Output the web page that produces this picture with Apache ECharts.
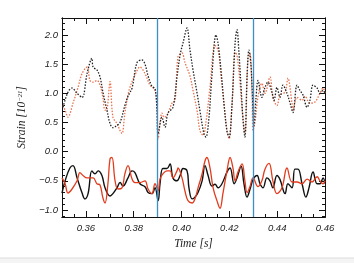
<!DOCTYPE html>
<html>
<head>
<meta charset="utf-8">
<script src="https://cdn.jsdelivr.net/npm/echarts@6/dist/echarts.min.js"></script>
<style>html,body{margin:0;padding:0;background:#fff}#c{width:354px;height:263px}</style>
</head>
<body>
<div id="c"></div>
<script>
// ---- data (time in s, strain in 1e-21) ----
var xTickLabels = [0.36, 0.38, 0.40, 0.42, 0.44, 0.46];
var yTickLabels = [-1.0, -0.5, 0.0, 0.5, 1.0, 1.5, 2.0];
var eventTimes = [0.39, 0.43];

var blackDotT = [0.3504,0.3525,0.3542,0.3563,0.3584,0.3605,0.3625,0.3630,0.3646,0.3659,0.3671,0.3688,0.3701,0.3713,0.3730,0.3743,0.3763,0.3776,0.3793,0.3814,0.3835,0.3847,0.3860,0.3876,0.3889,0.3897,0.3902,0.3918,0.3931,0.3943,0.3964,0.3981,0.3994,0.4006,0.4023,0.4035,0.4048,0.4065,0.4077,0.4094,0.4102,0.4115,0.4127,0.4144,0.4153,0.4165,0.4178,0.4190,0.4199,0.4211,0.4224,0.4232,0.4240,0.4249,0.4257,0.4265,0.4274,0.4282,0.4290,0.4295,0.4303,0.4311,0.4320,0.4336,0.4349,0.4361,0.4378,0.4387,0.4399,0.4412,0.4424,0.4441,0.4454,0.4466,0.4483,0.4495,0.4508,0.4525,0.4537,0.4550,0.4567,0.4579,0.4592,0.4600];
var blackDotV = [0.76,1.02,1.09,1.00,0.93,1.34,1.60,1.45,1.40,1.28,1.02,0.71,0.48,0.41,0.45,0.50,0.79,0.95,1.09,1.53,1.57,1.50,1.30,1.12,1.08,0.75,0.31,0.59,0.42,0.66,0.76,1.28,1.66,1.86,2.12,1.75,1.40,1.00,0.70,0.30,0.25,0.60,1.30,2.00,1.85,1.40,0.80,0.35,0.25,0.80,1.86,2.09,1.70,1.10,0.55,0.25,1.30,1.74,1.50,1.10,0.45,0.90,1.22,0.93,1.10,1.19,1.02,0.88,1.10,0.93,1.14,1.00,0.83,0.67,1.14,1.05,0.97,0.76,0.88,1.14,1.09,1.00,1.05,1.00];

var redDotT = [0.3504,0.3513,0.3525,0.3546,0.3567,0.3584,0.3605,0.3617,0.3630,0.3646,0.3659,0.3671,0.3680,0.3688,0.3701,0.3713,0.3730,0.3743,0.3751,0.3763,0.3776,0.3784,0.3805,0.3826,0.3847,0.3868,0.3889,0.3897,0.3902,0.3918,0.3927,0.3939,0.3960,0.3973,0.3985,0.4002,0.4014,0.4035,0.4048,0.4065,0.4077,0.4090,0.4102,0.4119,0.4140,0.4153,0.4165,0.4178,0.4190,0.4199,0.4211,0.4224,0.4232,0.4244,0.4253,0.4265,0.4278,0.4286,0.4295,0.4299,0.4307,0.4320,0.4336,0.4349,0.4370,0.4382,0.4399,0.4412,0.4433,0.4445,0.4462,0.4466,0.4483,0.4504,0.4516,0.4537,0.4558,0.4579,0.4592,0.4600];
var redDotV = [0.79,0.71,0.59,0.83,1.10,1.34,1.45,1.22,1.19,1.22,1.14,0.93,0.71,0.72,1.20,0.59,0.48,0.36,0.31,0.66,0.97,1.10,1.31,1.45,1.34,1.14,1.05,0.70,0.22,0.66,0.59,0.62,0.83,0.88,1.62,1.69,1.53,1.30,1.05,0.70,0.36,0.28,0.50,1.10,1.82,1.74,1.30,0.80,0.36,0.22,0.80,1.70,1.65,1.20,0.75,0.31,1.60,1.68,1.00,0.36,0.50,0.95,1.17,1.00,1.28,0.93,0.79,0.97,1.02,1.26,0.83,0.71,0.93,0.88,0.95,0.83,0.85,1.00,1.09,1.00];

var blackSolT = [0.3500,0.3513,0.3533,0.3546,0.3563,0.3584,0.3596,0.3609,0.3625,0.3638,0.3651,0.3667,0.3680,0.3701,0.3713,0.3730,0.3743,0.3755,0.3776,0.3793,0.3805,0.3826,0.3847,0.3860,0.3876,0.3889,0.3902,0.3910,0.3922,0.3939,0.3952,0.3964,0.3981,0.3994,0.4006,0.4023,0.4031,0.4044,0.4056,0.4069,0.4086,0.4098,0.4111,0.4127,0.4140,0.4153,0.4169,0.4190,0.4203,0.4220,0.4232,0.4249,0.4261,0.4274,0.4286,0.4299,0.4316,0.4328,0.4341,0.4357,0.4370,0.4382,0.4399,0.4412,0.4433,0.4445,0.4462,0.4474,0.4487,0.4504,0.4520,0.4533,0.4550,0.4567,0.4579,0.4592,0.4600];
var blackSolV = [-0.71,-0.50,-0.28,-0.24,-0.45,-0.71,-0.81,-0.72,-0.33,-0.38,-0.33,-0.41,-0.62,-0.76,-0.72,-0.62,-0.53,-0.59,-0.45,-0.33,-0.36,-0.55,-0.60,-0.70,-0.72,-0.62,-0.84,-0.55,-0.29,-0.29,-0.21,-0.45,-0.50,-0.41,-0.29,-0.33,-0.62,-0.81,-0.78,-0.70,-0.50,-0.24,-0.41,-0.59,-0.56,-0.62,-0.55,-0.35,-0.28,-0.55,-0.45,-0.25,-0.55,-0.78,-0.65,-0.48,-0.41,-0.55,-0.62,-0.45,-0.50,-0.62,-0.41,-0.48,-0.72,-0.55,-0.62,-0.30,-0.30,-0.55,-0.78,-0.62,-0.35,-0.55,-0.55,-0.45,-0.55];

var redSolT = [0.3500,0.3513,0.3525,0.3542,0.3563,0.3575,0.3588,0.3605,0.3630,0.3646,0.3659,0.3671,0.3680,0.3692,0.3701,0.3709,0.3722,0.3734,0.3751,0.3763,0.3776,0.3793,0.3805,0.3826,0.3847,0.3860,0.3876,0.3889,0.3902,0.3910,0.3922,0.3939,0.3952,0.3964,0.3981,0.3985,0.4002,0.4014,0.4027,0.4044,0.4056,0.4069,0.4086,0.4098,0.4106,0.4119,0.4132,0.4148,0.4161,0.4173,0.4190,0.4203,0.4215,0.4224,0.4236,0.4253,0.4265,0.4274,0.4286,0.4299,0.4320,0.4336,0.4349,0.4366,0.4382,0.4399,0.4420,0.4441,0.4462,0.4483,0.4504,0.4525,0.4546,0.4567,0.4579,0.4592,0.4600];
var redSolV = [-0.45,-0.55,-0.71,-0.64,-0.50,-0.36,-0.41,-0.45,-0.45,-0.55,-0.57,-0.79,-0.88,-0.55,-0.12,-0.10,-0.50,-0.64,-0.62,-0.38,-0.24,-0.47,-0.53,-0.53,-0.50,-0.64,-0.72,-0.55,-0.67,-0.47,-0.38,-0.33,-0.33,-0.45,-0.33,-0.28,-0.45,-0.67,-0.84,-0.88,-0.81,-0.62,-0.38,-0.16,-0.10,-0.28,-0.62,-0.84,-0.97,-0.72,-0.33,-0.10,-0.28,-0.50,-0.35,-0.21,-0.50,-0.70,-0.60,-0.45,-0.60,-0.50,-0.30,-0.20,-0.50,-0.72,-0.62,-0.28,-0.52,-0.52,-0.55,-0.47,-0.52,-0.43,-0.50,-0.55,-0.50];

function zip(t, v) { return t.map(function (x, i) { return [x, v[i]]; }); }

var X_MIN = 0.35, X_MAX = 0.46, Y_MIN = -1.12, Y_MAX = 2.29;
var xMinor = []; for (var i = 0; i <= 22; i++) xMinor.push(+(0.35 + i * 0.005).toFixed(3));
var yMinor = []; for (var j = -11; j <= 22; j++) yMinor.push(+(j * 0.1).toFixed(1));

var tickFont = { fontFamily: 'Liberation Sans', fontStyle: 'italic', fontSize: 9.5, color: '#222' };
function fmtY(v) { return (v < 0 ? '\u2212' : '') + Math.abs(v).toFixed(1); }

function xAx(pos, ticks, len, labels) {
  return {
    type: 'value', min: X_MIN, max: X_MAX, position: pos,
    axisLine: { show: true, onZero: false, lineStyle: { color: '#111', width: 1 } },
    axisTick: { show: true, inside: true, length: len, customValues: ticks, lineStyle: { color: '#111' } },
    axisLabel: labels ? Object.assign({ show: true, customValues: xTickLabels, margin: 6, formatter: function (v) { return v.toFixed(2); } }, tickFont) : { show: false },
    splitLine: { show: false }
  };
}
function yAx(pos, ticks, len, labels, name) {
  var a = {
    type: 'value', min: Y_MIN, max: Y_MAX, position: pos,
    axisLine: { show: true, onZero: false, lineStyle: { color: '#111', width: 1 } },
    axisTick: { show: true, inside: true, length: len, customValues: ticks, lineStyle: { color: '#111' } },
    axisLabel: labels ? Object.assign({ show: true, customValues: yTickLabels, margin: 4, formatter: fmtY }, tickFont) : { show: false },
    splitLine: { show: false }
  };
  if (name) {
    a.name = '{a|Strain [10}{b|\u221221}{a|]}';
    a.nameLocation = 'middle';
    a.nameGap = 23;
    a.nameRotate = 90;
    a.nameTextStyle = {
      rich: {
        a: { fontFamily: 'Liberation Serif', fontStyle: 'italic', fontSize: 11.5, color: '#222' },
        b: { fontFamily: 'Liberation Serif', fontStyle: 'italic', fontSize: 6.5, color: '#222', verticalAlign: 'top', padding: [0, 0, 5, 0] }
      }
    };
  }
  return a;
}

var xA0 = xAx('bottom', xTickLabels, 6, true);
xA0.name = 'Time [s]';
xA0.nameLocation = 'middle';
xA0.nameGap = 17;
xA0.nameTextStyle = { fontFamily: 'Liberation Serif', fontStyle: 'italic', fontSize: 11.5, color: '#222' };

var chart = echarts.init(document.getElementById('c'), null, { renderer: 'canvas' });
chart.setOption({
  animation: false,
  backgroundColor: '#fff',
  grid: { left: 62, right: 29, top: 18, bottom: 46, containLabel: false },
  xAxis: [xA0, xAx('bottom', xMinor, 3, false), xAx('top', xTickLabels, 6, false), xAx('top', xMinor, 3, false)],
  yAxis: [yAx('left', yTickLabels, 6, true, true), yAx('left', yMinor, 3, false), yAx('right', yTickLabels, 6, false), yAx('right', yMinor, 3, false)],
  graphic: [{ type: 'rect', shape: { x: 0, y: 258, width: 354, height: 5 }, style: { fill: '#f4f4f4' }, silent: true },
            { type: 'line', shape: { x1: 0, y1: 258, x2: 354, y2: 258 }, style: { stroke: '#dcdcdc', lineWidth: 1 }, silent: true }],
  series: [
    { type: 'line', name: 'red dotted', data: zip(redDotT, redDotV), smooth: 0.35, showSymbol: false,
      lineStyle: { color: '#e8734f', width: 1.3, type: [1.5, 1.5] } },
    { type: 'line', name: 'black dotted', data: zip(blackDotT, blackDotV), smooth: 0.35, showSymbol: false,
      lineStyle: { color: '#222', width: 1.3, type: [1.5, 1.5] } },
    { type: 'line', name: 'black solid', data: zip(blackSolT, blackSolV), smooth: 0.4, showSymbol: false,
      lineStyle: { color: '#111', width: 1.4 } },
    { type: 'line', name: 'red solid', data: zip(redSolT, redSolV), smooth: 0.4, showSymbol: false,
      lineStyle: { color: '#e23b1c', width: 1.3 },
      markLine: { silent: true, symbol: 'none', label: { show: false },
        lineStyle: { color: '#3b8fc7', width: 1.3, type: 'solid' },
        data: eventTimes.map(function (t) { return { xAxis: t }; }) } }
  ]
});
</script>
</body>
</html>
